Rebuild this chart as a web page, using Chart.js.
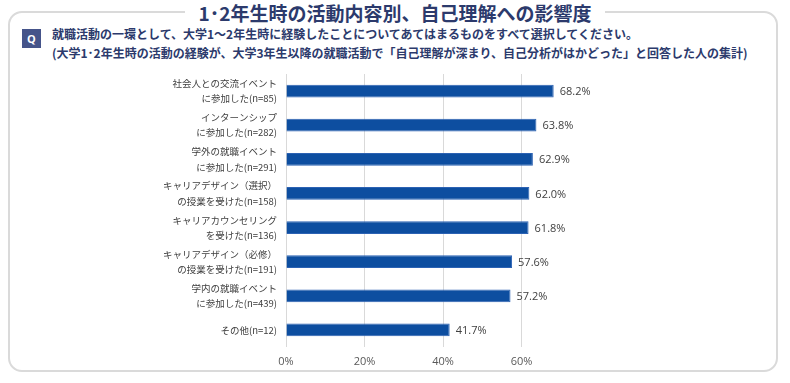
<!DOCTYPE html>
<html>
<head>
<meta charset="utf-8">
<script src="https://cdn.jsdelivr.net/npm/chart.js@4"></script>
<style>
  html, body { margin: 0; padding: 0; background: #fff; }
  body { width: 790px; height: 383px; position: relative; overflow: hidden;
         font-family: "Noto Sans CJK JP", "Noto Sans", sans-serif; }
  .frame { position: absolute; left: 8px; top: 11px; width: 766px; height: 357px;
           border: 2px solid #dadada; border-radius: 14px; }
  .title { position: absolute; left: 0; top: 1px; width: 790px; text-align: center;
           font-size: 19px; font-weight: bold; color: #2c3a6c; line-height: 24px; }
  .title span { background: #fff; padding: 0 14px; }
  .qbox { position: absolute; left: 22px; top: 29px; width: 19px; height: 19px;
          background: #45548a; color: #fff; font: bold 11px "Open Sans", sans-serif;
          text-align: center; line-height: 19px; }
  .qtext { position: absolute; left: 52px; top: 24px; font-size: 12px; font-weight: bold;
           color: #2c3a6c; line-height: 19px; white-space: nowrap; }
  #wrap { position: absolute; left: 0; top: 0; width: 790px; height: 383px; }
</style>
</head>
<body>
<div class="frame"></div>
<div class="title"><span>1･2年生時の活動内容別、自己理解への影響度</span></div>
<div class="qbox">Q</div>
<div class="qtext">就職活動の一環として、大学1～2年生時に経験したことについてあてはまるものをすべて選択してください。<br>(大学1･2年生時の活動の経験が、大学3年生以降の就職活動で「自己理解が深まり、自己分析がはかどった」と回答した人の集計)</div>
<div id="wrap"><canvas id="chart"></canvas></div>
<script>
var categories = [
	['社会人との交流イベント', 'に参加した(n=85)'],
	['インターンシップ', 'に参加した(n=282)'],
	['学外の就職イベント', 'に参加した(n=291)'],
	['キャリアデザイン（選択）', 'の授業を受けた(n=158)'],
	['キャリアカウンセリング', 'を受けた(n=136)'],
	['キャリアデザイン（必修）', 'の授業を受けた(n=191)'],
	['学内の就職イベント', 'に参加した(n=439)'],
	'その他(n=12)'
];
var values = [68.2, 63.8, 62.9, 62.0, 61.8, 57.6, 57.2, 41.7];
var tickValues = [0, 20, 40, 60];

// value labels at the end of each bar
var barLabels = {
	id: 'barLabels',
	afterDatasetsDraw: function(chart) {
		var ctx = chart.ctx;
		var meta = chart.getDatasetMeta(0);
		ctx.save();
		ctx.font = '11px "Open Sans", sans-serif';
		ctx.fillStyle = '#404040';
		ctx.textAlign = 'left';
		ctx.textBaseline = 'middle';
		meta.data.forEach(function(bar, i) {
			ctx.fillText(values[i].toFixed(1) + '%', bar.x + 6, bar.y + 1);
		});
		ctx.restore();
	}
};

var ctx = document.getElementById('chart').getContext('2d');
var myChart = new Chart(ctx, {
	type: 'bar',
	data: {
		labels: categories,
		datasets: [
			{
				data: values,
				backgroundColor: '#0d4ea0',
				borderColor: '#2c62b3',
				borderWidth: 1,
				barPercentage: 0.37,
				categoryPercentage: 1
			}
		]
	},
	plugins: [barLabels],
	options: {
		indexAxis: 'y',
		responsive: true,
		maintainAspectRatio: false,
		animation: false,
		layout: { padding: { left: 0, right: 190, top: 74, bottom: 12 } },
		plugins: {
			legend: { display: false },
			tooltip: { enabled: false }
		},
		scales: {
			x: {
				min: 0,
				max: 80,
				afterBuildTicks: function(scale) {
					scale.ticks = tickValues.map(function(v) { return { value: v }; });
				},
				afterFit: function(scale) { scale.height = 24; },
				grid: { color: '#d9d9d9', drawTicks: false },
				border: { display: false },
				ticks: {
					padding: 8,
					color: '#595959',
					font: { family: '"Open Sans", sans-serif', size: 11 },
					callback: function(v) { return v + '%'; }
				}
			},
			y: {
				afterFit: function(scale) { scale.width = 286; },
				grid: { display: false, drawTicks: false },
				border: { display: false },
				ticks: {
					padding: 9,
					color: '#404040',
					font: { family: '"Noto Sans CJK JP", sans-serif', size: 9.5, lineHeight: 1.6 }
				}
			}
		}
	}
});
</script>
</body>
</html>
